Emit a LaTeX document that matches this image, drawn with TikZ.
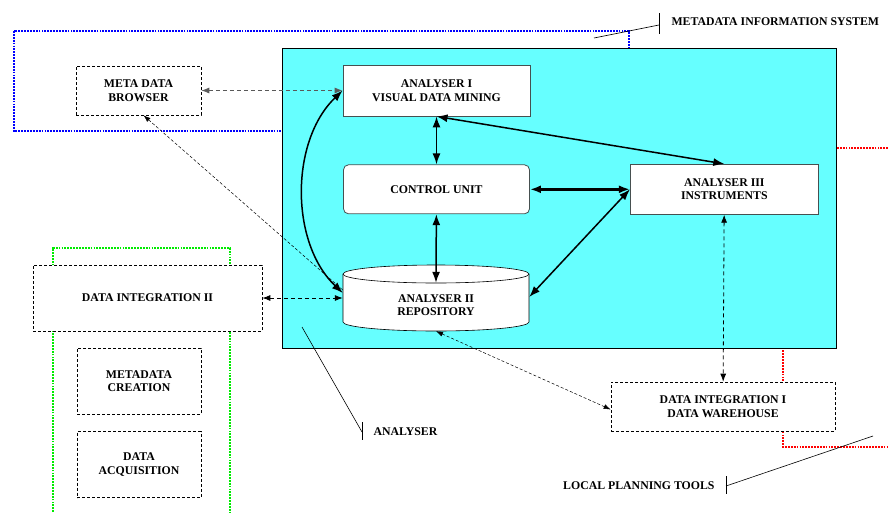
\documentclass[tikz,border=0pt]{standalone}
\usepackage{fontspec}
\setmainfont{Liberation Serif}
\usetikzlibrary{positioning, arrows.meta}
\definecolor{boxcyan}{RGB}{102,255,255}
\definecolor{misblue}{RGB}{0,0,255}
\definecolor{lptred}{RGB}{255,0,0}
\definecolor{digreen}{RGB}{0,235,0}
\definecolor{edgegray}{RGB}{70,80,80}

\begin{document}
\begin{tikzpicture}[
  x=1pt, y=-1pt,
  txt/.style={font=\fontsize{11.8}{13.5}\selectfont\bfseries, align=center, text=black},
  solidbox/.style={txt, draw=edgegray, fill=white, line width=0.8pt, inner sep=0pt},
  dashbox/.style={txt, draw=black, fill=white, line width=0.7pt, inner sep=0pt,
                  dash pattern=on 3pt off 2pt},
  grouppath/.style={line width=2.8pt, dash pattern=on 1.8pt off 1.1pt},
  drum/.style={draw=black, fill=white, line width=0.6pt},
  bigarrow/.style={{Latex[length=11pt,width=8pt]}-{Latex[length=11pt,width=8pt]}, line width=1.5pt},
  dasharrow/.style={{Latex[length=8pt,width=6pt]}-{Latex[length=8pt,width=6pt]}, line width=0.8pt,
                    dash pattern=on 4pt off 3pt},
  thinarrow/.style={line width=0.5pt, dash pattern=on 3pt off 2pt},
  leader/.style={line width=0.6pt}
]
  \useasboundingbox (0,0) rectangle (888,512);

  % system borders behind the analyser block
  \draw[grouppath, misblue] (14,31) rectangle (629,131);
  \draw[grouppath, lptred] (888,148) -- (783,148) -- (783,447) -- (888,447);
  \draw[grouppath, digreen] (53,512) -- (53,248) -- (230,248) -- (230,512);

  \node[draw=black, line width=0.8pt, fill=boxcyan, minimum width=554pt, minimum height=300pt,
        inner sep=0pt] (anabox) at (559,198) {};

  % analyser components
  \node[solidbox, minimum width=187pt, minimum height=51pt] (ana1) at (436.5,90.5)
    {ANALYSER I\\VISUAL DATA MINING};
  \node[solidbox, rounded corners=5pt, minimum width=186pt, minimum height=49pt,
        below=48pt of ana1] (ctrl) {CONTROL UNIT};
  \node[solidbox, minimum width=188pt, minimum height=50pt, right=100pt of ctrl] (ana3)
    {ANALYSER III\\INSTRUMENTS};

  % repository drum
  \draw[drum] (343,274) -- (343,322) arc[start angle=180, end angle=360, x radius=93pt, y radius=9pt]
    -- (529,274) arc[start angle=0, end angle=180, x radius=93pt, y radius=9pt] -- cycle;
  \draw[drum, fill=none] (343,274) arc[start angle=180, end angle=360, x radius=93pt, y radius=9pt];
  \node[txt, minimum width=186pt, minimum height=52pt, inner sep=0pt] (repo) at (436,305)
    {ANALYSER II\\REPOSITORY};

  % outside components
  \node[dashbox, minimum width=125pt, minimum height=49pt] (browser) at (138.5,90.5)
    {META DATA\\BROWSER};
  \node[dashbox, minimum width=229pt, minimum height=66pt] (di2) at (147.5,298)
    {DATA INTEGRATION II};
  \node[dashbox, minimum width=124pt, minimum height=66pt] (mcreate) at (139,381)
    {METADATA\\CREATION};
  \node[dashbox, minimum width=124pt, minimum height=66pt, below=17pt of mcreate] (dacq)
    {DATA\\ACQUISITION};
  \node[dashbox, minimum width=224pt, minimum height=49pt] (dw) at (723,406.5)
    {DATA INTEGRATION I\\DATA WAREHOUSE};

  % links
  \draw[bigarrow] (ana1) -- (ctrl);
  \draw[bigarrow] (ctrl) -- ([yshift=-4pt]repo.north);
  \draw[bigarrow, line width=2.8pt] (ctrl) -- (ana3);
  \draw[bigarrow] (ana1.south) -- (ana3.north);
  \draw[bigarrow] (ana3.west) -- ([yshift=8pt]repo.east);
  \draw[bigarrow] (ana1.west) .. controls (290,141) and (290,243) .. ([yshift=12pt]repo.west);
  \draw[dasharrow, black!65] (browser) -- (ana1);
  \draw[dasharrow] (di2.east) -- ([yshift=7pt]repo.west);
  \draw[dasharrow] (ana3) -- (dw);
  \draw[thinarrow, <-, >={Latex[length=7pt,width=5pt]}] ([xshift=5pt]browser.south) -- ([yshift=15pt]repo.west);
  \draw[thinarrow, <->, >={Latex[length=7pt,width=5pt]}] (repo.south) -- ([yshift=-3pt]dw.west);

  % captions
  \node[txt, anchor=west] (mislbl) at (668,22) {METADATA INFORMATION SYSTEM};
  \node[txt, anchor=west] (analbl) at (370,432) {ANALYSER};
  \node[txt, anchor=east] (lptlbl) at (718,486) {LOCAL PLANNING TOOLS};
  \coordinate (misend) at (594,38);
  \coordinate (anaend) at (302,327);
  \coordinate (lptend) at (873,436);
  \draw[leader] ([xshift=-9pt,yshift=9pt]mislbl.west) -- ++(0,21);
  \draw[leader] (misend) -- ([xshift=-9pt,yshift=-3pt]mislbl.west);
  \draw[leader] ([xshift=-8pt,yshift=10pt]analbl.west) -- ++(0,18);
  \draw[leader] (anaend) -- ([xshift=-8pt]analbl.west);
  \draw[leader] ([xshift=8pt,yshift=10pt]lptlbl.east) -- ++(0,18);
  \draw[leader] (lptend) -- ([xshift=8pt]lptlbl.east);
\end{tikzpicture}
\end{document}
